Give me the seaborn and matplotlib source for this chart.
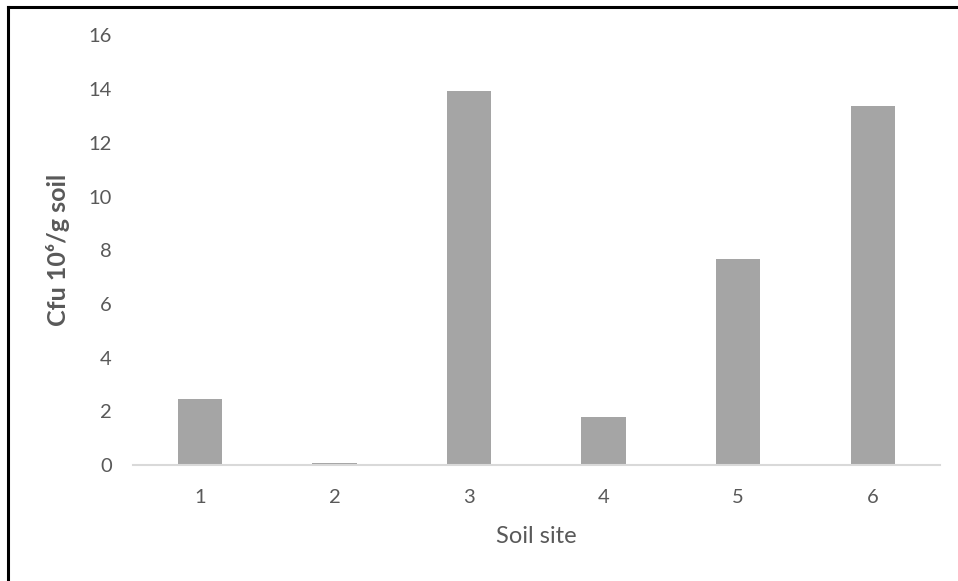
import matplotlib
matplotlib.use("Agg")
import matplotlib.pyplot as plt
from matplotlib.lines import Line2D
import seaborn as sns
import pandas as pd

# Colony counts per soil site
sites = ["1", "2", "3", "4", "5", "6"]
cfu = [2.46, 0.08, 13.95, 1.80, 7.68, 13.38]
y_ticks = [0, 2, 4, 6, 8, 10, 12, 14, 16]

df = pd.DataFrame({"site": sites, "cfu": cfu})

sns.set_style("white")
plt.rcParams["font.family"] = ["Lato", "DejaVu Sans"]

W, H = 958, 581
fig = plt.figure(figsize=(W / 100, H / 100), dpi=100)
ax = fig.add_axes([132.7 / W, 1 - 465 / H, (940 - 132.7) / W, (465 - 35.5) / H])

sns.barplot(data=df, x="site", y="cfu", color="#A5A5A5", saturation=1,
            width=0.33, ax=ax, linewidth=0)

text_gray = "#595959"
ax.set_ylim(0, 16)
ax.set_yticks(y_ticks)
ax.set_xlim(-0.5, len(sites) - 0.5)
ax.tick_params(axis="both", length=0, labelsize=14.5, colors=text_gray)
ax.tick_params(axis="y", pad=15)
ax.tick_params(axis="x", pad=17)

for side in ["left", "right", "top"]:
    ax.spines[side].set_visible(False)
ax.spines["bottom"].set_color("#D9D9D9")
ax.spines["bottom"].set_linewidth(1.5)

ax.set_xlabel("Soil site", fontsize=17, color=text_gray, labelpad=15)
ax.set_ylabel("Cfu 10⁶/g soil", fontsize=18, color=text_gray,
              fontweight="bold", labelpad=13)

# Frame on the left and top edges
fig.add_artist(Line2D([8 / W, 8 / W], [0, 1 - 7 / H], color="black", lw=2.2,
                      transform=fig.transFigure, solid_capstyle="projecting"))
fig.add_artist(Line2D([8 / W, 1], [1 - 7 / H, 1 - 7 / H], color="black", lw=2.2,
                      transform=fig.transFigure, solid_capstyle="projecting"))

fig.savefig("out.png", dpi=100, facecolor="white")
